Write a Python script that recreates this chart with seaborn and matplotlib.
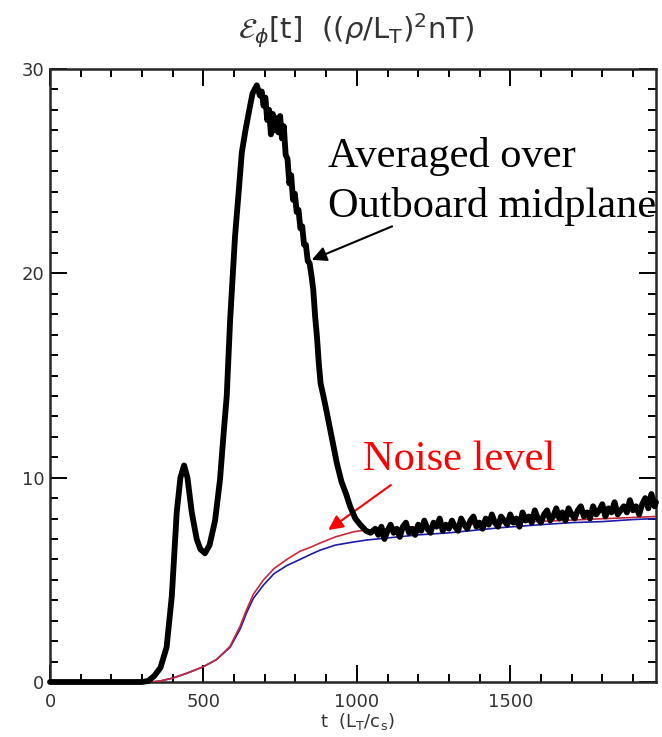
import matplotlib
matplotlib.use("Agg")
import matplotlib.pyplot as plt
from matplotlib.ticker import MultipleLocator
import pandas as pd
import seaborn as sns

# Averaged over outboard midplane (black, thick, noisy)
t_avg = [0, 300, 320, 340, 360, 380, 397, 413, 425, 437, 448, 462, 478, 490, 505,
         520, 538, 554, 565, 576, 587, 603, 615, 625, 637, 647, 660, 674, 684,
         690, 696, 702, 708, 714, 720, 726, 732, 738, 744, 750, 756, 762, 768,
         774, 780, 786, 792, 798, 804, 810, 816, 822, 828, 834, 840, 846, 853,
         858, 864, 870, 876, 882, 891, 902, 918, 935, 950, 965, 978, 995, 1011,
         1030, 1045,
         1060, 1070, 1080, 1090, 1100, 1110, 1120, 1130, 1140, 1150, 1160, 1170,
         1180, 1190, 1200, 1210, 1220, 1230, 1240, 1250, 1260, 1270, 1280, 1290,
         1300, 1310, 1320, 1330, 1340, 1350, 1360, 1370, 1380, 1390, 1400, 1410,
         1420, 1430, 1440, 1450, 1460, 1470, 1480, 1490, 1500, 1510, 1520, 1530,
         1540, 1550, 1560, 1570, 1580, 1590, 1600, 1610, 1620, 1630, 1640, 1650,
         1660, 1670, 1680, 1690, 1700, 1710, 1720, 1730, 1740, 1750, 1760, 1770,
         1780, 1790, 1800, 1810, 1820, 1830, 1840, 1850, 1860, 1870, 1880, 1890,
         1900, 1910, 1920, 1930, 1940, 1950, 1960, 1970, 1975]
e_avg = [0, 0, 0.05, 0.3, 0.7, 1.7, 4.2, 8.3, 10.0, 10.6, 10.0, 8.3, 7.0, 6.5, 6.3,
         6.7, 7.9, 9.9, 12.0, 14.0, 17.7, 21.8, 24.0, 25.9, 27.0, 27.8, 28.8, 29.2, 28.7,
         28.9, 28.2, 28.6, 27.5, 28.0, 26.8, 27.8, 27.0, 27.6, 26.9, 27.7, 26.6, 27.2, 25.8,
         25.6, 24.4, 24.8, 23.6, 23.9, 23.0, 23.1, 22.2, 22.3, 21.4, 21.4, 20.6, 20.5, 19.8,
         19.2, 17.9, 16.9, 15.6, 14.6, 14.0, 13.2, 12.0, 10.7, 9.8, 9.2, 8.6, 8.0, 7.7,
         7.4, 7.3,
         7.5, 7.2, 7.6, 7.0, 7.4, 7.7, 7.3, 7.5, 7.1, 7.6, 7.8, 7.3,
         7.5, 7.2, 7.7, 7.4, 7.9, 7.5, 7.3, 7.8, 7.6, 8.0, 7.4, 7.7,
         7.5, 7.9, 7.6, 7.4, 8.0, 7.7, 7.5, 7.9, 8.1, 7.6, 7.8, 7.5,
         8.0, 7.7, 8.2, 7.8, 7.6, 8.1, 7.9, 7.7, 8.2, 7.8, 8.0, 7.6,
         8.3, 7.9, 8.1, 7.8, 8.4, 8.0, 7.8, 8.2, 8.4, 7.9, 8.1, 8.5,
         8.0, 8.3, 7.9, 8.5, 8.2, 8.0, 8.4, 8.6, 8.1, 8.3, 8.0, 8.6,
         8.2, 8.4, 8.7, 8.1, 8.5, 8.3, 8.8, 8.2, 8.4, 8.6, 8.3, 8.9,
         8.4, 8.6, 8.2, 8.7, 9.0, 8.5, 9.2, 8.6, 8.8]

# Noise level (red) and lower reference curve (blue)
t_noise = [0, 330, 360, 402, 450, 500, 543, 587, 620, 641, 663, 696, 730, 772,
           815, 850, 880, 930, 989, 1011, 1050, 1200, 1500, 1975]
e_noise = [0, 0, 0.05, 0.2, 0.45, 0.75, 1.1, 1.75, 2.75, 3.55, 4.3, 5.0, 5.55, 6.0,
           6.4, 6.6, 6.8, 7.1, 7.35, 7.4, 7.45, 7.6, 7.8, 8.1]

t_blue = [0, 330, 360, 402, 450, 500, 543, 587, 620, 641, 663, 696, 730, 772,
          815, 850, 880, 930, 989, 1033, 1100, 1200, 1300, 1400, 1467, 1600,
          1700, 1800, 1900, 1975]
e_blue = [0, 0, 0.05, 0.2, 0.45, 0.75, 1.1, 1.7, 2.6, 3.4, 4.1, 4.75, 5.3, 5.7,
          6.0, 6.25, 6.45, 6.7, 6.85, 6.95, 7.05, 7.2, 7.3, 7.45, 7.55, 7.7,
          7.8, 7.85, 7.95, 8.0]

sns.set_style("ticks")
plt.rcParams['font.family'] = ['DejaVu Sans']

fig = plt.figure(figsize=(6.62, 7.37), dpi=100)
ax = fig.add_axes([50 / 662, 1 - 682 / 737, 606 / 662, 613 / 737])

df_blue = pd.DataFrame({'t': t_blue, 'E': e_blue})
df_noise = pd.DataFrame({'t': t_noise, 'E': e_noise})
df_avg = pd.DataFrame({'t': t_avg, 'E': e_avg})

sns.lineplot(data=df_blue, x='t', y='E', ax=ax, color='#1c1ca8', linewidth=1.2,
             estimator=None, sort=False, zorder=2)
sns.lineplot(data=df_noise, x='t', y='E', ax=ax, color='#c8283a', linewidth=1.2,
             estimator=None, sort=False, zorder=3)
sns.lineplot(data=df_avg, x='t', y='E', ax=ax, color='black', linewidth=4.2,
             estimator=None, sort=False, zorder=4, clip_on=False)

ax.set_xlim(0, 1975)
ax.set_ylim(0, 30)
ax.xaxis.set_major_locator(MultipleLocator(500))
ax.xaxis.set_minor_locator(MultipleLocator(100))
ax.yaxis.set_major_locator(MultipleLocator(10))
ax.yaxis.set_minor_locator(MultipleLocator(1))
ax.tick_params(which='both', direction='in', top=True, right=True, width=1.4,
               color='black', labelsize=13, labelcolor='#333333')
ax.tick_params(which='major', length=12)
ax.tick_params(which='minor', length=6)
ax.tick_params(axis='x', pad=8)
ax.tick_params(axis='y', pad=4)
for s in ax.spines.values():
    s.set_linewidth(1.8)
    s.set_visible(True)
ax.set_xlabel('')
ax.set_ylabel('')

# title and axis label in figure coords
fig.text(356 / 662, 1 - 31 / 737,
         r'$\mathcal{E}_{\phi}$[t]  (($\rho$/L$_\mathrm{T}$)$^2$nT)',
         ha='center', va='center', fontsize=21, color='#333333')
fig.text(357 / 662, 1 - 721 / 737, r't  (L$_\mathrm{T}$/c$_\mathrm{s}$)',
         ha='center', va='center', fontsize=13, color='#333333')

# annotations
serif = dict(family='Liberation Serif', fontsize=30.5)
ax.text(906, 25.2, 'Averaged over', va='baseline', ha='left', color='black', **serif)
ax.text(906, 22.76, 'Outboard midplane', va='baseline', ha='left', color='black', **serif)
ax.text(1021, 10.38, 'Noise level', va='baseline', ha='left', color='#ff0000', **serif)

ax.annotate('', xy=(853, 20.66), xytext=(1115, 22.3),
            arrowprops=dict(arrowstyle='-|>', color='black', lw=1.5,
                            mutation_scale=22, shrinkA=0, shrinkB=0))
ax.annotate('', xy=(907, 7.44), xytext=(1111, 9.64),
            arrowprops=dict(arrowstyle='-|>', color='#ff0000', lw=1.5,
                            mutation_scale=22, shrinkA=0, shrinkB=0))

fig.savefig('out.png', dpi=100)
